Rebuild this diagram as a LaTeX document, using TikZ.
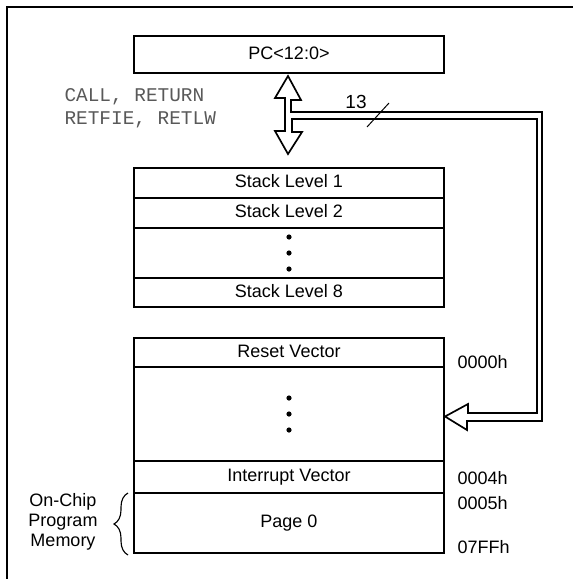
\documentclass[tikz,border=0pt]{standalone}
\usepackage{fontspec}
\setmainfont{Liberation Sans}
\newfontfamily\codefont{Liberation Mono}
\usetikzlibrary{calc,decorations.pathreplacing}

\begin{document}
\begin{tikzpicture}[x=0.025cm, y=-0.025cm, thick,
  cell/.style={draw, line width=1.4pt, minimum width=7.75cm, inner sep=0pt,
    text height=1.5ex, text depth=.25ex, font=\fontsize{12.8}{15}\selectfont},
  addr/.style={anchor=west, inner sep=0pt, font=\fontsize{12.8}{15}\selectfont},
  bus/.style={line width=1.2pt, line join=miter},
  blob/.style={circle, fill, inner sep=0pt, minimum size=0.13cm}]
  \useasboundingbox (0,0) rectangle (573,579);
  \draw[line width=1.6pt] (7,579) -- (7,7) -- (573,7);

  \node[cell, minimum height=0.925cm] (pc) at (289,54.5) {PC<12:0>};

  % stack, 8 levels
  \node[cell, minimum height=0.75cm]  (s1)    at (289,183)   {Stack Level 1};
  \node[cell, minimum height=0.75cm]  (s2)    at (289,213)   {Stack Level 2};
  \node[cell, minimum height=1.25cm]  (sdots) at (289,253)   {};
  \node[cell, minimum height=0.725cm] (s8)    at (289,292.5) {Stack Level 8};
  \foreach \k/\dy in {a/-16, b/0, c/16}
    \node[blob] (sd\k) at ($(sdots)+(0,\dy)$) {};

  % on-chip program memory
  \node[cell, minimum height=0.725cm] (reset) at (289,352.5) {Reset Vector};
  \node[cell, minimum height=2.35cm]  (vmid)  at (289,414)   {};
  \node[cell, minimum height=0.8cm]   (intr)  at (289,477)   {Interrupt Vector};
  \node[cell, minimum height=1.5cm]   (page)  at (289,523)   {Page 0};
  \foreach \k/\dy in {a/-16, b/0, c/16}
    \node[blob] (md\k) at ($(vmid)+(0,\dy)$) {};

  \node[addr] (a0) at (457,362) {0000h};
  \node[addr] (a4) at (457,478) {0004h};
  \node[addr] (a5) at (457,503) {0005h};
  \node[addr] (a7) at (457,547) {07FFh};

  % 13-bit bus: PC <-> stack, and into program memory
  \coordinate (tipA) at ($(pc.south)+(-1,2)$);
  \coordinate (tipB) at ($(s1.north)+(-1,-13)$);
  \coordinate (tipC) at ($(vmid.east)+(0,2.5)$);
  \draw[bus] (tipA) -- ++(13,24) -- ++(-10,0) -- ++(0,12) -- ++(251,0)
    -- ++(0,309) -- ++(-75,0) -- ++(0,9) -- (tipC) -- ++(23,-12.5)
    -- ++(0,9) -- ++(69,0) -- ++(0,-294) -- ++(-245,0) -- ++(0,13)
    -- ++(10,0) -- (tipB) -- ++(-13,-23) -- ++(10,0) -- ++(0,-33)
    -- ++(-10,0) -- cycle;
  \draw[line width=0.7pt] (367,127) -- (389,103);
  \node[font=\fontsize{13.5}{15}\selectfont] (width) at (356,102) {13};

  \node[anchor=west, inner sep=0pt, align=left, text=black!65,
        font=\codefont\fontsize{13.8}{16.3}\selectfont] (instr) at (64,108.5)
        {CALL, RETURN\\RETFIE, RETLW};

  % brace for the memory label
  \draw[decorate, decoration={brace, amplitude=0.35cm}, line width=0.8pt]
    (128,555) -- (128,493);
  \node[align=center, inner sep=0pt, font=\fontsize{12.8}{14.2}\selectfont]
    (onchip) at (63,522) {On-Chip\\Program\\Memory};
\end{tikzpicture}
\end{document}
